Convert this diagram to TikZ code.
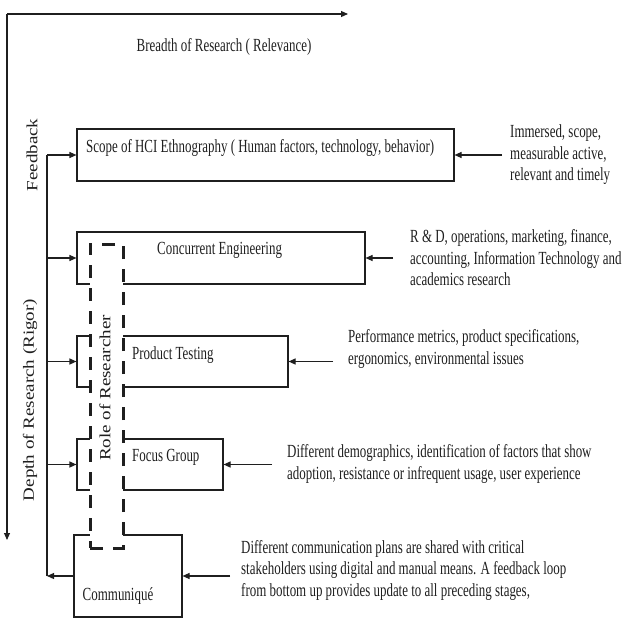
\documentclass[tikz,border=0pt]{standalone}
\usepackage{fontspec}
\setmainfont[FakeStretch=0.70]{Liberation Serif}
\newfontfamily\rotfont{Liberation Serif}
\usetikzlibrary{arrows.meta,calc}
\definecolor{ink}{gray}{0.12}

\begin{document}
\begin{tikzpicture}[x=1pt,y=-1pt,
  txt/.style={inner sep=0pt, font=\fontsize{18.5}{21.5}\selectfont, text=ink},
  note/.style={txt, align=left, anchor=west},
  box/.style={draw=ink, line width=1.1pt, rectangle, inner sep=0pt},
  arr/.style={draw=ink, line width=1.1pt, -{Triangle[length=7pt,width=6pt]}},
  plain/.style={draw=ink, line width=1.1pt},
  vlabel/.style={inner sep=0pt, rotate=90, text=ink, font=\rotfont\fontsize{19}{22}\selectfont},
  rolebox/.style={draw=ink, fill=white, line width=3pt, dash pattern=on 13pt off 10pt, inner sep=0pt},
]
\useasboundingbox (0,0) rectangle (625,619);

% axes
\coordinate (origin) at (7,14);
\coordinate (xend) at (348,14);
\coordinate (yend) at (7,540);
\draw[arr] (origin) -- (xend);
\draw[arr] (origin) -- (yend);
\node[txt] (breadth) at (224,47) {Breadth of Research ( Relevance)};
\node[vlabel] (depth) at (30,400) {\scalebox{1}[0.82]{Depth of Research (Rigor)}};
\node[vlabel] (feedback) at (32,155) {\scalebox{1}[0.82]{Feedback}};

% stage boxes
\node[box, minimum width=377pt, minimum height=52pt] (b1) at (265.5,155) {};
\node[box, minimum width=288pt, minimum height=52pt] (b2) at (221,258) {};
\node[box, minimum width=211pt, minimum height=51pt] (b3) at (182.5,361.5) {};
\node[box, minimum width=146pt, minimum height=51pt] (b4) at (150,464.5) {};
\node[box, minimum width=108pt, minimum height=82pt] (b5) at (128,576) {};

% researcher band over the stages
\node[rolebox, minimum width=33pt, minimum height=304pt] (role) at (106.5,396) {};
\node[vlabel] (roletext) at (105,388) {\scalebox{1}[0.82]{Role of Researcher}};

% stage titles
\node[txt, anchor=west] (t1) at (86,148) {Scope of HCI Ethnography ( Human factors, technology, behavior)};
\node[txt, anchor=west] (t2) at (157,250) {Concurrent Engineering};
\node[txt, anchor=west] (t3) at (132,355) {Product Testing};
\node[txt, anchor=west] (t4) at (132,457) {Focus Group};
\node[txt] (t5) at (118,596) {Communiqué};

% inputs to each stage
\node[note] (n1) at (510,155) {Immersed, scope,\\measurable active,\\relevant and timely};
\node[note] (n2) at (410,258) {R \& D, operations, marketing, finance,\\accounting, Information Technology and\\academics research};
\node[note] (n3) at (348,349) {Performance metrics, product specifications,\\ergonomics, environmental issues};
\node[note] (n4) at (287,464) {Different demographics, identification of factors that show\\adoption, resistance or infrequent usage, user experience};
\node[note] (n5) at (241,570) {Different communication plans are shared with critical\\stakeholders using digital and manual means. A feedback loop\\from bottom up provides update to all preceding stages,};

\draw[arr] ($(b1.east -| n1.west)+(-8,0)$) -- (b1.east);
\draw[arr] ($(b2.east -| n2.west)+(-17,0)$) -- (b2.east);
\draw[arr] ($(b3.east -| n3.west)+(-15,0)$) -- (b3.east);
\draw[arr] ($(b4.east -| n4.west)+(-15,0)$) -- (b4.east);
\draw[arr] ($(b5.east -| n5.west)+(-11,0)$) -- (b5.east);

% feedback loop from the last stage back to all earlier ones
\coordinate (fbx) at (47,0);
\coordinate (fbtop) at (b1.west -| fbx);
\coordinate (fbbot) at (b5.west -| fbx);
\draw[arr] (b5.west) -- (fbbot);
\draw[plain] (fbbot) -- (fbtop);
\draw[arr] (fbtop) -- (b1.west);
\draw[arr] (b2.west -| fbx) -- (b2.west);
\draw[arr] (b3.west -| fbx) -- (b3.west);
\draw[arr] (b4.west -| fbx) -- (b4.west);
\end{tikzpicture}
\end{document}
